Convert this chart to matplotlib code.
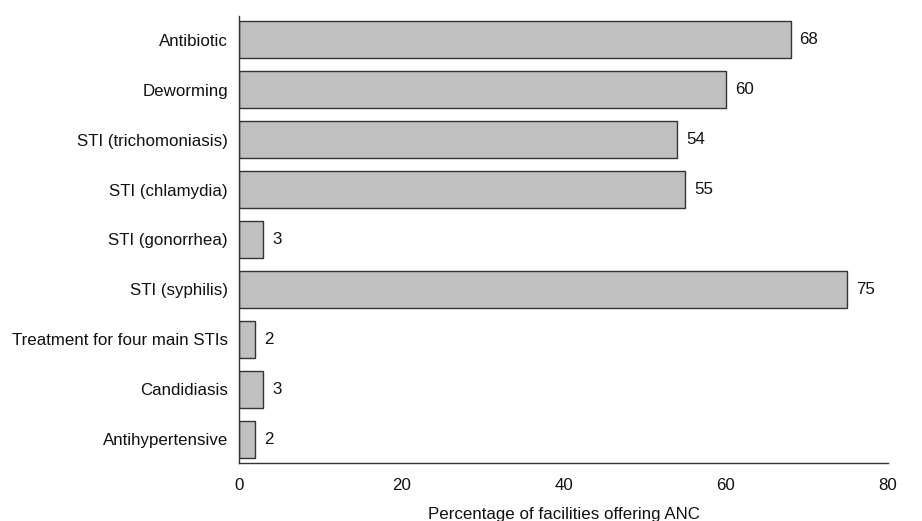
import matplotlib
matplotlib.use("Agg")
import matplotlib.pyplot as plt

categories = ["Antibiotic", "Deworming", "STI (trichomoniasis)", "STI (chlamydia)",
              "STI (gonorrhea)", "STI (syphilis)", "Treatment for four main STIs",
              "Candidiasis", "Antihypertensive"]
values = [68, 60, 54, 55, 3, 75, 2, 3, 2]
xticks = [0, 20, 40, 60, 80]
xlabel = "Percentage of facilities offering ANC"

plt.rcParams['font.family'] = ['Liberation Sans', 'DejaVu Sans']
FS = 12.2

fig = plt.figure(figsize=(9.22, 5.21), dpi=100)
ax = fig.add_axes([239/922, 1-463/521, (888-239)/922, (463-16)/521])

pos = list(range(len(categories)))
ax.barh(pos, values, height=0.74, color="#c0c0c0", edgecolor="#333333", linewidth=1.0)
for p, v in zip(pos, values):
    ax.text(v + 1.1, p, f"{v}", va="center", ha="left", fontsize=FS, color="#111111")

ax.set_ylim(8.48, -0.48)
ax.set_xlim(0, 80)
ax.set_yticks(pos)
ax.set_yticklabels(categories, fontsize=FS, color="#111111")
ax.set_xticks(xticks)
ax.set_xticklabels([str(t) for t in xticks], fontsize=FS, color="#111111")
ax.tick_params(axis="both", length=0)
ax.tick_params(axis="x", pad=11)
ax.tick_params(axis="y", pad=8)
ax.set_xlabel(xlabel, fontsize=FS, color="#111111", labelpad=10)
for s in ["top", "right"]:
    ax.spines[s].set_visible(False)
for s in ["left", "bottom"]:
    ax.spines[s].set_color("#333333")
    ax.spines[s].set_linewidth(1.0)

fig.savefig("out.png", dpi=100)
